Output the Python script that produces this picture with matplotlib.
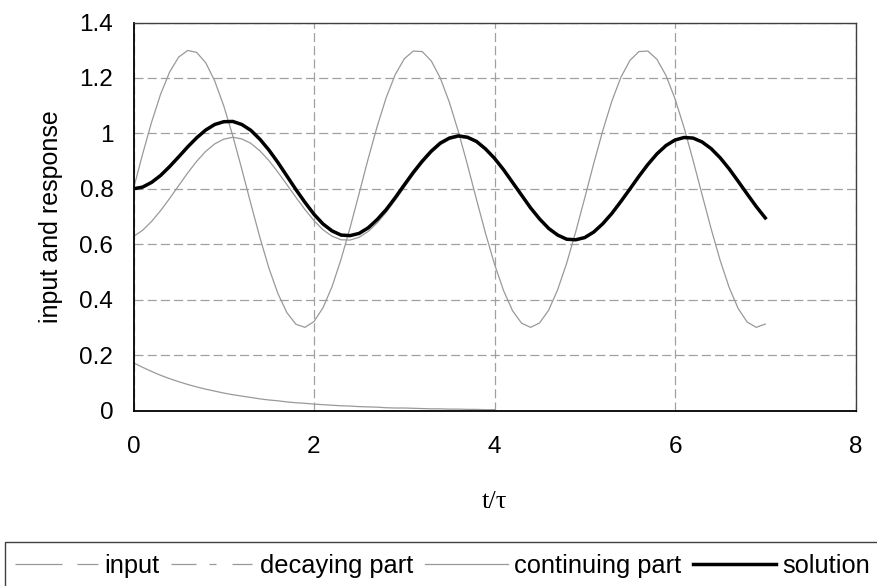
import numpy as np
import matplotlib
matplotlib.use("Agg")
import matplotlib.pyplot as plt
from matplotlib.lines import Line2D
from matplotlib.patches import Rectangle

plt.rcParams["font.family"] = ["Liberation Sans", "DejaVu Sans"]
plt.rcParams["lines.scale_dashes"] = False

# ================================
# Data (t/tau sampled every 0.1)
# ================================
t = np.linspace(0, 7, 71)

input_signal = [
    0.800, 0.924, 1.040, 1.141, 1.221, 1.275, 1.299, 1.292, 1.255, 1.189,
    1.099, 0.991, 0.871, 0.746, 0.625, 0.514, 0.422, 0.353, 0.311, 0.300,
    0.321, 0.371, 0.447, 0.546, 0.660, 0.783, 0.908, 1.025, 1.129, 1.212,
    1.269, 1.297, 1.295, 1.261, 1.199, 1.112, 1.006, 0.887, 0.762, 0.640,
    0.528, 0.433, 0.360, 0.315, 0.300, 0.316, 0.362, 0.436, 0.532, 0.645,
    0.767, 0.892, 1.010, 1.116, 1.202, 1.263, 1.295, 1.297, 1.267, 1.209,
    1.125, 1.021, 0.903, 0.779, 0.656, 0.542, 0.444, 0.368, 0.319, 0.300,
    0.312,
]

decaying_part = [
    0.172, 0.156, 0.141, 0.127, 0.115, 0.104, 0.094, 0.085, 0.077, 0.070,
    0.063, 0.057, 0.052, 0.047, 0.042, 0.038, 0.035, 0.031, 0.028, 0.026,
    0.023, 0.021, 0.019, 0.017, 0.016, 0.014, 0.013, 0.012, 0.010, 0.009,
    0.009, 0.008, 0.007, 0.006, 0.006, 0.005, 0.005, 0.004, 0.004, 0.003,
    0.003,
]

continuing_part = [
    0.628, 0.650, 0.682, 0.721, 0.765, 0.811, 0.857, 0.899, 0.935, 0.962,
    0.979, 0.986, 0.980, 0.964, 0.937, 0.902, 0.860, 0.815, 0.769, 0.725,
    0.685, 0.652, 0.629, 0.616, 0.615, 0.625, 0.646, 0.677, 0.715, 0.759,
    0.805, 0.851, 0.893, 0.930, 0.959, 0.978, 0.986, 0.982, 0.967, 0.941,
    0.907, 0.866, 0.821, 0.775, 0.730, 0.690, 0.656, 0.632, 0.617, 0.615,
    0.623, 0.643, 0.673, 0.710, 0.753, 0.799, 0.845, 0.888, 0.926, 0.956,
    0.976, 0.985, 0.983, 0.969, 0.945, 0.912, 0.872, 0.827, 0.781, 0.736,
    0.695,
]

solution = [
    0.800, 0.806, 0.823, 0.848, 0.880, 0.915, 0.951, 0.984, 1.012, 1.032,
    1.042, 1.043, 1.032, 1.011, 0.979, 0.940, 0.895, 0.846, 0.797, 0.751,
    0.708, 0.673, 0.648, 0.633, 0.631, 0.639, 0.659, 0.689, 0.725, 0.768,
    0.814, 0.859, 0.900, 0.936, 0.965, 0.983, 0.991, 0.986, 0.971, 0.944,
    0.910, 0.869, 0.823, 0.777, 0.731, 0.691, 0.657, 0.633, 0.618, 0.616,
    0.624, 0.644, 0.674, 0.711, 0.754, 0.799, 0.845, 0.888, 0.926, 0.956,
    0.976, 0.985, 0.983, 0.969, 0.945, 0.912, 0.872, 0.827, 0.781, 0.736,
    0.695,
]

y_ticks = [0, 0.2, 0.4, 0.6, 0.8, 1.0, 1.2, 1.4]
y_tick_labels = ["0", "0.2", "0.4", "0.6", "0.8", "1", "1.2", "1.4"]
x_ticks = [0, 2, 4, 6, 8]

# ================================
# Plot
# ================================
fig = plt.figure(figsize=(8.77, 5.86), dpi=100)
ax = fig.add_axes([133.5 / 877, 1 - 410.5 / 586, 722 / 877, 388 / 586])

gray = "#999999"
ax.plot(t, input_signal, color=gray, lw=0.9)
ax.plot(t[:len(decaying_part)], decaying_part, color=gray, lw=0.9)
ax.plot(t, continuing_part, color=gray, lw=0.9)
ax.plot(t, solution, color="black", lw=2.5)

ax.set_xlim(0, 8)
ax.set_ylim(0, 1.4)
ax.set_xticks(x_ticks)
ax.set_xticklabels([str(v) for v in x_ticks])
ax.set_yticks(y_ticks)
ax.set_yticklabels(y_tick_labels)
ax.tick_params(length=0, labelsize=17.5)
ax.tick_params(axis="y", pad=14.5)
ax.tick_params(axis="x", pad=18.5)

ax.grid(True, color="#a0a0a0", lw=0.9, dashes=(6.5, 3))
ax.set_axisbelow(True)

for side in ["left", "bottom"]:
    ax.spines[side].set_color("black")
    ax.spines[side].set_linewidth(1.3)
for side in ["top", "right"]:
    ax.spines[side].set_color("#404040")
    ax.spines[side].set_linewidth(1.0)

ax.set_ylabel("input and response", fontsize=18)
ax.yaxis.set_label_coords(-0.097, 0.5)
ax.set_xlabel("t/\u03c4", fontsize=19, family=["Liberation Serif", "DejaVu Serif"])
ax.xaxis.set_label_coords(0.5, -0.236)
ax.xaxis.label.set_verticalalignment("center")

# Legend strip along the bottom edge
fig.add_artist(Rectangle((5 / 877, -0.05), 1.0, 0.05 + (1 - 542 / 586),
                         transform=fig.transFigure, fill=False,
                         edgecolor="#404040", lw=1.0, clip_on=False))

handles = [
    Line2D([], [], color=gray, lw=0.9, dashes=(33.8, 10.8, 15.1, 100)),
    Line2D([], [], color=gray, lw=0.9, dashes=(18, 9.4, 5, 11.5, 14.4, 100)),
    Line2D([], [], color=gray, lw=0.9),
    Line2D([], [], color="black", lw=2.5),
]
labels = ["input", "decaying part", "continuing part", "solution"]
fig.legend(handles, labels, loc="center left",
           bbox_to_anchor=(15 / 877, 1 - 566 / 586), ncol=4, frameon=False,
           fontsize=18.3, handlelength=3.27, handletextpad=0.24,
           columnspacing=0.45, borderpad=0, borderaxespad=0)

fig.savefig("out.png", dpi=100)
